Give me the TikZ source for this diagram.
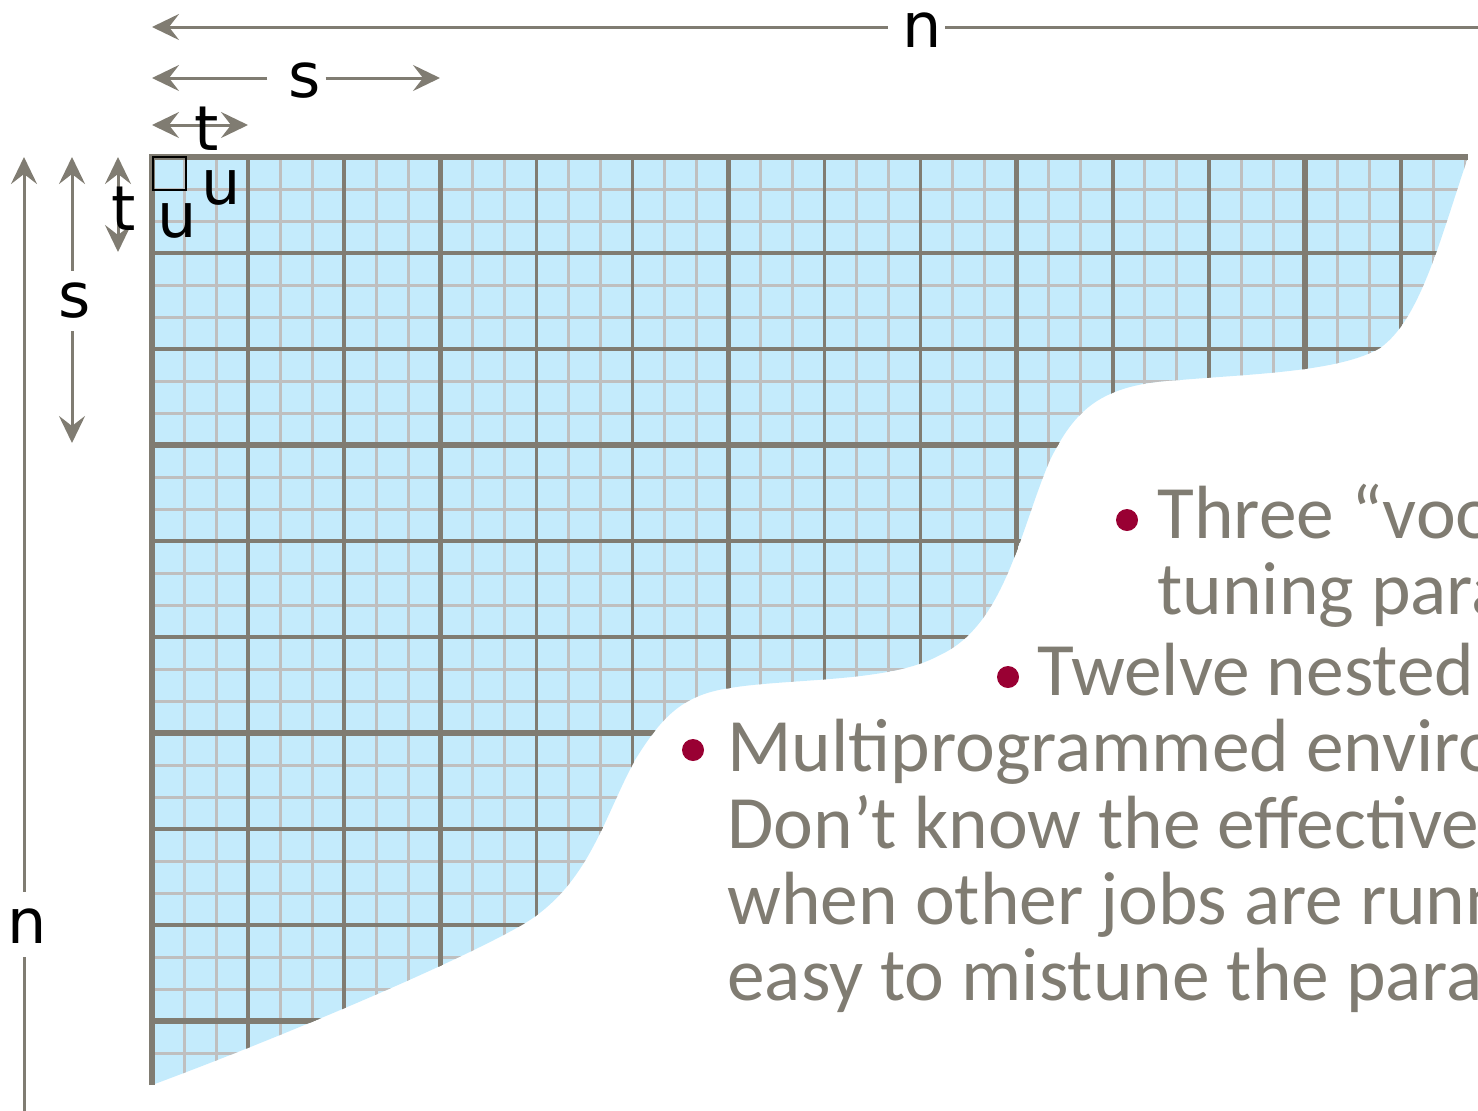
\documentclass[tikz,border=0pt]{standalone}
\usepackage{fontspec}
\setmainfont{Carlito}
\newfontfamily\lblfont{DejaVu Sans}
\usetikzlibrary{arrows.meta,calc}
\definecolor{cellblue}{RGB}{196,235,252}
\definecolor{thingray}{RGB}{191,191,191}
\definecolor{gridgray}{RGB}{128,124,114}
\definecolor{bulletred}{RGB}{153,0,51}
\newcommand\regionpath{(152,157) -- (1468,157)
  .. controls (1440,240) and (1420,320) .. (1380,348)
  .. controls (1340,372) and (1250,374) .. (1180,380)
  .. controls (1100,384) and (1075,410) .. (1050,460)
  .. controls (1020,530) and (1005,625) .. (940,655)
  .. controls (890,683) and (790,678) .. (730,688)
  .. controls (680,695) and (660,720) .. (635,760)
  .. controls (605,815) and (590,880) .. (530,920)
  .. controls (480,952) and (300,1030) .. (152,1085) -- cycle}
\begin{document}
\begin{tikzpicture}[x=0.5pt,y=-0.5pt,
  >={Stealth[length=13.5pt,width=13pt,inset=5pt]},
  dim/.style={draw=gridgray,line width=1.5pt},
  thinline/.style={draw=thingray,line width=1.5pt},
  midline/.style={draw=gridgray,line width=1.7pt},
  heavyline/.style={draw=gridgray,line width=2.6pt},
  lbl/.style={font=\lblfont\fontsize{31}{31}\selectfont,text=black,inner sep=0pt},
  body/.style={font=\fontsize{37.7}{40}\selectfont,text=gridgray,inner sep=0pt,anchor=base west},
  bulletdot/.style={circle,fill=bulletred,minimum size=11pt,inner sep=0pt}]
\useasboundingbox (0,0) rectangle (1478,1110);
\clip (0,0) rectangle (1478,1110);
% blue region
\fill[cellblue] \regionpath;
\begin{scope}
  \clip \regionpath;
  \foreach \k in {1,...,42} {\draw[thinline] ({152+32.03*\k},140) -- ({152+32.03*\k},1100);}
  \foreach \k in {1,...,30} {\draw[thinline] (140,{157+32*\k}) -- (1490,{157+32*\k});}
  \foreach \k in {1,...,14} {\draw[midline] ({152+96.08*\k},140) -- ({152+96.08*\k},1100);}
  \foreach \k in {1,...,10} {\draw[midline] (140,{157+96*\k}) -- (1490,{157+96*\k});}
  \foreach \k in {1,...,4} {\draw[heavyline] ({152+288.25*\k},140) -- ({152+288.25*\k},1100);}
  \foreach \k in {1,...,3} {\draw[heavyline] (140,{157+288*\k}) -- (1490,{157+288*\k});}
\end{scope}
\draw[heavyline] (152,1085) -- (152,157) -- (1468,157);
% small block
\node[draw=black,line width=1.2pt,minimum size=16.5pt,inner sep=0pt,anchor=north west] (blk) at (152,156) {};
\node[lbl,anchor=base] (uA) at (221,204) {u};
\node[lbl,anchor=base] (uB) at (177,237) {u};
% top dimensions
\coordinate (nTopL) at (152,27);
\coordinate (nTopR) at (1495,27);
\node[lbl,anchor=base] (nTop) at (922,47) {n};
\draw[dim,->] ($(nTop.west |- nTopL)+(-14,0)$) -- (nTopL);
\draw[dim] ($(nTop.east |- nTopR)+(3,0)$) -- (nTopR);
\coordinate (sTopL) at (152,78);
\coordinate (sTopR) at (440,78);
\node[lbl,anchor=base] (sTop) at (305,97) {s};
\draw[dim,->] ($(sTop.west |- sTopL)+(-21,0)$) -- (sTopL);
\draw[dim,->] ($(sTop.east |- sTopR)+(4,0)$) -- (sTopR);
\coordinate (tTopL) at (152,125);
\coordinate (tTopR) at (248,125);
\draw[dim,<->] (tTopL) -- (tTopR);
\node[lbl,anchor=base] (tTop) at (207,150) {t};
% left dimensions
\coordinate (nLeftT) at (24,157);
\coordinate (nLeftB) at (24,1125);
\node[lbl,anchor=base] (nLeft) at (27,943) {n};
\draw[dim,->] ($(nLeftT |- nLeft.north)+(0,-16)$) -- (nLeftT);
\draw[dim] ($(nLeftB |- nLeft.south)+(0,14)$) -- (nLeftB);
\coordinate (sLeftT) at (72,157);
\coordinate (sLeftB) at (72,443);
\node[lbl,anchor=base] (sLeft) at (75,317) {s};
\draw[dim,->] ($(sLeftT |- sLeft.north)+(0,-11)$) -- (sLeftT);
\draw[dim,->] ($(sLeftB |- sLeft.south)+(0,13)$) -- (sLeftB);
\coordinate (tLeftT) at (118,157);
\coordinate (tLeftB) at (118,252);
\draw[dim,<->] (tLeftT) -- (tLeftB);
\node[lbl,anchor=base] (tLeft) at (124,230) {t};
% bullet text
\node[bulletdot] (b1) at (1127,520) {};
\node[body] (l1a) at (1157,538) {Three “voodoo”};
\node[body] (l1b) at (1157,614) {tuning parameters.};
\node[bulletdot] (b2) at (1008,677) {};
\node[body] (l2) at (1037,695) {Twelve nested loops.};
\node[bulletdot] (b3) at (693,750) {};
\node[body] (l3a) at (727,771) {Multiprogrammed environment:};
\node[body] (l3b) at (727,848) {Don’t know the effective cache size};
\node[body] (l3c) at (727,924) {when other jobs are running};
\node[body] (l3d) at (727,1000) {easy to mistune the parameters!};
\end{tikzpicture}
\end{document}
